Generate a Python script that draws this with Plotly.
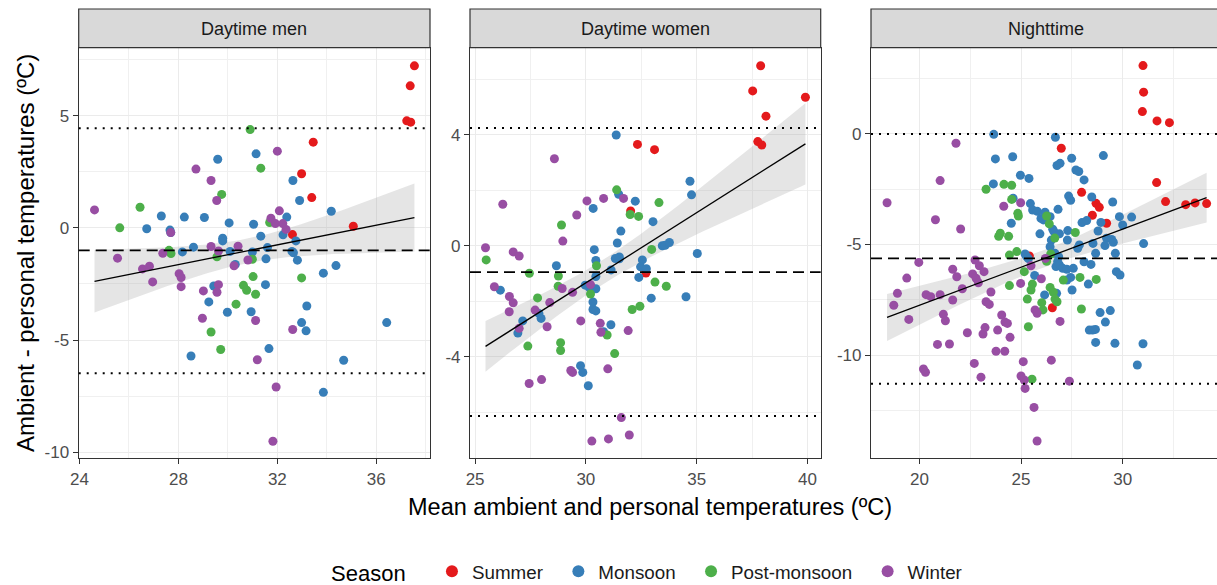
import numpy as np
import plotly.graph_objects as go

# ---------------- data ----------------
PANELS = ["Daytime men", "Daytime women", "Nighttime"]
SEASONS = ["Summer", "Monsoon", "Post-monsoon", "Winter"]
COLORS = {"Summer": "#E41A1C", "Monsoon": "#377EB8", "Post-monsoon": "#4DAF4A", "Winter": "#984EA3"}

# Daytime men
DM_SUMMER_X = [37.54, 37.37, 37.23, 37.39, 33.45, 32.98, 33.39, 35.07, 32.61]
DM_SUMMER_Y = [7.22, 6.33, 4.77, 4.71, 3.82, 2.41, 1.35, 0.07, -0.30]
DM_MONSOON_X = [29.59, 31.14, 32.63, 32.90, 34.18, 27.31, 28.24, 29.05, 26.72, 27.66, 27.69, 30.05, 31.04,
                32.38, 32.23, 32.75, 31.33, 29.79, 29.79, 28.61, 28.16, 30.09, 30.99, 31.60, 32.59, 32.65,
                31.54, 32.81, 30.30, 34.37, 33.86, 31.52, 29.43, 29.23, 33.19, 29.98, 30.94, 32.98, 33.16,
                36.42, 28.51, 31.66, 34.68, 33.86]
DM_MONSOON_Y = [3.06, 3.30, 2.11, 1.22, 0.74, 0.53, 0.48, 0.46, -0.04, -0.10, -0.21, 0.22, 0.16, 0.48,
                -0.31, -0.58, -0.37, -0.46, -0.58, -0.86, -1.07, -1.05, -1.08, -0.88, -1.05, -1.11, -1.38,
                -1.44, -1.63, -1.68, -2.02, -2.53, -2.59, -3.30, -3.48, -3.76, -3.74, -4.22, -4.59, -4.22,
                -5.71, -5.38, -5.90, -7.33]
DM_POST_X = [30.90, 31.33, 29.75, 26.45, 25.63, 31.69, 27.62, 27.70, 29.56, 30.99, 31.02, 32.98, 30.63,
             30.76, 31.12, 30.33, 29.32, 29.71]
DM_POST_Y = [4.38, 2.66, 1.49, 0.92, 0.00, 0.24, -1.00, -1.14, -1.29, -1.40, -2.17, -2.23, -2.56, -2.78,
             -2.96, -3.40, -4.64, -5.42]
DM_WINTER_X = [24.61, 25.54, 26.55, 26.83, 26.96, 27.37, 27.69, 28.71, 29.32, 29.55, 32.00, 32.08, 31.74,
               31.92, 32.22, 32.35, 29.32, 29.62, 30.41, 30.25, 30.81, 28.03, 28.11, 28.11, 29.01, 29.62,
               29.56, 28.97, 31.12, 32.62, 31.19, 31.95, 31.82]
DM_WINTER_Y = [0.80, -1.35, -1.83, -1.71, -2.41, -1.13, -0.21, 2.62, 2.11, 1.22, 3.42, 0.76, 0.43, 0.19,
               0.19, -0.07, -0.83, -1.03, -0.82, -1.69, -1.43, -2.04, -2.21, -2.62, -2.81, -2.53, -2.87,
               -4.03, -4.13, -4.53, -5.88, -7.09, -9.51]

# Daytime women
DW_SUMMER_X = [37.89, 37.53, 39.91, 38.13, 37.76, 37.94, 32.33, 33.10, 32.02, 32.71]
DW_SUMMER_Y = [6.50, 5.59, 5.36, 4.68, 3.76, 3.64, 3.66, 3.47, 1.26, -0.98]
DW_MONSOON_X = [31.37, 34.70, 34.77, 32.23, 30.33, 31.48, 33.03, 31.58, 31.42, 33.45, 33.58, 33.77, 35.03,
                30.38, 30.45, 31.33, 31.51, 31.51, 32.55, 32.47, 32.73, 32.39, 31.14, 28.67, 30.45, 29.97,
                30.17, 30.45, 32.95, 34.52, 26.14, 30.32, 30.32, 30.45, 27.15, 26.93, 27.88, 27.98, 30.80,
                31.13, 29.76, 29.86, 30.11]
DW_MONSOON_Y = [4.00, 2.33, 1.84, 1.61, 1.35, 1.86, 0.87, 0.53, 0.10, 0.00, 0.02, 0.12, -0.28, -0.14,
                -0.53, -0.46, -0.47, -0.40, -0.51, -0.76, -0.83, -1.14, -0.87, -0.72, -1.11, -1.42, -1.52,
                -1.55, -1.89, -1.84, -1.60, -2.03, -2.30, -2.35, -2.71, -3.15, -2.44, -2.62, -3.10, -2.85,
                -4.33, -4.57, -5.05]
DW_POST_X = [31.39, 33.30, 32.00, 32.38, 28.90, 32.97, 30.48, 27.45, 28.76, 28.75, 30.21, 33.12, 33.63,
             27.82, 32.09, 32.44, 30.96, 28.86, 28.86, 27.38, 31.30, 25.50]
DW_POST_Y = [2.02, 1.56, 1.13, 1.06, 0.75, -0.13, -0.72, -0.99, -1.09, -1.46, -1.74, -1.31, -1.46, -1.88,
             -2.30, -2.18, -3.22, -3.50, -3.78, -3.62, -3.89, -0.51]
DW_WINTER_X = [25.47, 26.25, 26.72, 26.99, 25.87, 26.55, 26.72, 26.54, 26.99, 27.71, 28.25, 28.37, 28.58,
               28.96, 29.59, 30.05, 30.80, 31.70, 28.93, 29.40, 30.21, 29.77, 30.65, 30.68, 31.91, 29.32,
               29.40, 30.99, 27.44, 28.00, 31.60, 30.27, 31.02, 31.96]
DW_WINTER_Y = [-0.07, 1.50, -0.22, -0.37, -1.48, -1.83, -2.06, -2.38, -2.98, -2.32, -2.92, -2.05, 3.14,
               0.17, 1.11, 1.62, 1.71, 1.71, -1.54, -1.68, -1.40, -2.71, -2.80, -3.12, -3.06, -4.50, -4.57,
               -4.44, -4.97, -4.83, -6.20, -7.05, -6.97, -6.83]

# Nighttime
NT_SUMMER_X = [31.00, 31.03, 30.97, 31.69, 32.30, 26.98, 31.67, 32.11, 33.10, 33.56, 34.13, 27.98, 28.69,
               28.85, 28.51, 29.21, 25.41, 26.54]
NT_SUMMER_Y = [3.09, 1.89, 1.01, 0.59, 0.51, -0.65, -2.20, -3.06, -3.20, -3.12, -3.15, -2.64, -3.14,
               -3.32, -3.68, -4.04, -5.52, -7.86]
NT_MONSOON_X = [23.66, 26.69, 23.74, 24.59, 29.05, 26.77, 26.92, 27.49, 27.70, 27.84,
                28.10, 24.97, 25.39, 23.64, 24.61, 27.34, 27.44, 28.48, 29.51, 25.46,
                25.57, 25.80, 26.18, 26.82, 25.98, 26.10, 26.43, 24.52, 25.93, 26.56,
                26.62, 26.89, 27.30, 27.28, 26.49, 26.43, 28.00, 28.23, 28.79, 29.84,
                30.00, 30.44, 28.93, 29.21, 29.46, 29.54, 29.13, 28.54, 27.87, 27.79,
                29.64, 31.03, 28.67, 25.20, 25.28, 25.36, 26.67, 26.85, 26.80, 26.72,
                26.89, 27.05, 27.25, 27.57, 28.10, 28.44, 28.31, 29.69, 29.87, 25.67,
                27.26, 27.44, 27.51, 26.16, 26.75, 28.89, 29.39, 29.15, 28.36, 28.52,
                28.66, 28.67, 29.62, 31.00, 30.72]
NT_MONSOON_Y = [-0.02, -0.15, -1.13, -1.03, -0.98, -1.43, -1.33, -1.10, -1.63, -1.70,
                -2.08, -1.87, -2.01, -2.26, -2.91, -2.81, -3.00, -2.85, -3.08, -3.15,
                -3.44, -3.50, -3.54, -3.41, -3.82, -3.89, -3.74, -4.04, -4.52, -4.31,
                -4.42, -4.52, -4.37, -4.80, -4.80, -5.10, -4.01, -3.92, -4.39, -3.74,
                -4.12, -3.76, -4.00, -4.72, -4.77, -4.90, -5.05, -4.95, -5.02, -5.17,
                -5.40, -4.96, -5.40, -5.43, -5.55, -5.64, -5.40, -5.55, -5.78, -6.00,
                -5.93, -6.08, -6.12, -6.08, -5.78, -5.90, -6.79, -6.23, -6.38, -6.40,
                -6.61, -6.49, -7.06, -7.28, -7.21, -8.08, -7.99, -8.51, -8.87, -8.87,
                -8.84, -9.43, -9.47, -9.49, -10.45]
NT_POST_X = [23.28, 24.16, 24.54, 24.54, 24.84, 24.87, 23.90, 23.98, 24.39, 26.26, 26.39, 26.66, 27.67,
             24.43, 24.79, 26.46, 26.26, 25.16, 25.56, 25.49, 24.43, 26.43, 26.59, 26.67, 26.77, 25.31,
             26.02, 26.08, 27.08, 27.90, 28.70, 27.97, 25.36, 25.54]
NT_POST_Y = [-2.50, -2.28, -2.32, -2.96, -3.59, -3.71, -4.63, -4.49, -4.63, -3.71, -4.07, -4.71, -4.46,
             -5.48, -5.32, -5.43, -5.76, -6.23, -6.79, -7.06, -6.86, -6.94, -7.16, -7.47, -7.59, -7.47,
             -7.63, -7.96, -6.61, -6.49, -6.58, -7.92, -8.72, -11.09]
NT_WINTER_X = [18.41, 21.80, 21.02, 20.79, 22.03, 24.15, 24.98, 19.97, 19.38, 18.92,
               18.74, 19.48, 20.33, 20.56, 21.02, 21.64, 21.84, 21.64, 22.11, 22.74,
               22.95, 23.18, 22.62, 22.79, 22.90, 21.18, 21.28, 22.36, 23.13, 23.23,
               23.52, 23.28, 23.44, 24.05, 24.21, 24.33, 23.85, 24.46, 20.89, 21.48,
               23.77, 24.20, 20.20, 20.30, 22.70, 23.03, 25.11, 25.00, 25.16, 25.20,
               25.64, 25.79, 26.49, 27.38, 24.98, 25.49, 26.00, 25.69, 25.79, 26.92, 26.20]
NT_WINTER_Y = [-3.11, -0.42, -2.11, -3.88, -4.30, -3.27, -3.11, -5.81, -6.52, -7.21,
               -7.75, -8.39, -7.27, -7.36, -7.27, -6.12, -6.46, -7.51, -7.00, -5.70,
               -5.96, -6.23, -6.33, -6.53, -6.73, -8.16, -8.45, -8.99, -9.05, -8.76,
               -7.15, -7.59, -7.71, -8.19, -8.51, -8.57, -8.87, -9.20, -9.52, -9.50,
               -9.83, -9.83, -10.63, -10.78, -10.38, -11.00, -10.30, -10.95, -11.13, -11.51,
               -12.37, -13.89, -10.23, -11.18, -6.76, -5.96, -6.55, -7.96, -8.11, -8.48, -5.63]

# Bias (mean difference) and limits of agreement per panel
BIAS = [-1.00, -0.95, -5.63]
LOA_UPPER = [4.44, 4.25, 0.00]
LOA_LOWER = [-6.48, -6.14, -11.30]

# Linear trend (geom_smooth, method = lm): start / end points
TREND_X = [[24.61, 37.54], [25.47, 39.91], [18.41, 34.13]]
TREND_Y = [[-2.38, 0.46], [-3.63, 3.68], [-8.30, -2.88]]

# axis tick settings per panel
X_TICKS = [[24, 28, 32, 36], [25, 30, 35, 40], [20, 25, 30]]
Y_TICKS = [[-10, -5, 0, 5], [-4, 0, 4], [-10, -5, 0]]

DATA = [
    {"Summer": (DM_SUMMER_X, DM_SUMMER_Y), "Monsoon": (DM_MONSOON_X, DM_MONSOON_Y),
     "Post-monsoon": (DM_POST_X, DM_POST_Y), "Winter": (DM_WINTER_X, DM_WINTER_Y)},
    {"Summer": (DW_SUMMER_X, DW_SUMMER_Y), "Monsoon": (DW_MONSOON_X, DW_MONSOON_Y),
     "Post-monsoon": (DW_POST_X, DW_POST_Y), "Winter": (DW_WINTER_X, DW_WINTER_Y)},
    {"Summer": (NT_SUMMER_X, NT_SUMMER_Y), "Monsoon": (NT_MONSOON_X, NT_MONSOON_Y),
     "Post-monsoon": (NT_POST_X, NT_POST_Y), "Winter": (NT_WINTER_X, NT_WINTER_Y)},
]

# ---------------- layout geometry ----------------
W, H = 1217, 585
X_DOMAINS = [(78.7 / W, 430.0 / W), (470.0 / W, 820.7 / W), (871.0 / W, 1.0)]
Y_DOMAIN = ((H - 458.3) / H, (H - 47.7) / H)
X_RANGES = [(23.97, 38.17), (24.77, 40.6), (17.62, 34.64)]
Y_RANGES = [(-10.27, 8.03), (-7.67, 7.15), (-14.67, 3.90)]
FONT = "Liberation Sans, Arial, sans-serif"
NBSP = "\u00a0"


def t_quantile(df, z=1.959964):
    return z + (z**3 + z) / (4 * df) + (5 * z**5 + 16 * z**3 + 3 * z) / (96 * df**2)


def fmt(v):
    return str(v).replace("\u2212", "-")


fig = go.Figure()

for p in range(3):
    xa = "x" if p == 0 else f"x{p+1}"
    ya = "y" if p == 0 else f"y{p+1}"
    allx = np.concatenate([np.array(DATA[p][s][0]) for s in SEASONS])
    ally = np.concatenate([np.array(DATA[p][s][1]) for s in SEASONS])
    n = len(allx)
    (tx0, tx1), (ty0, ty1) = TREND_X[p], TREND_Y[p]
    b = (ty1 - ty0) / (tx1 - tx0)
    a = ty0 - b * tx0
    resid = ally - (a + b * allx)
    s = np.sqrt(np.sum(resid**2) / (n - 2))
    xbar = allx.mean()
    sxx = np.sum((allx - xbar) ** 2)
    gx = np.linspace(tx0, tx1, 80)
    gy = a + b * gx
    se = s * np.sqrt(1.0 / n + (gx - xbar) ** 2 / sxx)
    tq = t_quantile(n - 2)
    lo, hi = gy - tq * se, gy + tq * se
    fig.add_trace(go.Scatter(x=np.concatenate([gx, gx[::-1]]), y=np.concatenate([hi, lo[::-1]]),
                             fill="toself", fillcolor="rgba(153,153,153,0.25)", line=dict(width=0),
                             mode="lines", hoverinfo="skip", showlegend=False, xaxis=xa, yaxis=ya))
    for k, sname in enumerate(SEASONS):
        xs, ys = DATA[p][sname]
        label = sname + (NBSP * 2 if k < len(SEASONS) - 1 else "")
        fig.add_trace(go.Scatter(x=xs, y=ys, mode="markers", name=label, legendgroup=sname,
                                 showlegend=(p == 0),
                                 marker=dict(color=COLORS[sname], size=9, line=dict(width=0)),
                                 xaxis=xa, yaxis=ya))
    fig.add_trace(go.Scatter(x=gx, y=gy, mode="lines", line=dict(color="black", width=1.3),
                             hoverinfo="skip", showlegend=False, xaxis=xa, yaxis=ya))

    # reference lines
    for val, dash, wd in [(BIAS[p], "11px,6px", 1.8), (LOA_UPPER[p], "2px,6px", 2.0),
                          (LOA_LOWER[p], "2px,6px", 2.0)]:
        fig.add_shape(type="line", xref=f"{xa} domain", yref=ya, x0=0, x1=1, y0=val, y1=val,
                      line=dict(color="black", width=wd, dash=dash), layer="above")

    # strip
    x0d, x1d = X_DOMAINS[p]
    fig.add_shape(type="rect", xref="paper", yref="paper", x0=x0d, x1=(x1d if p < 2 else 1.01),
                  y0=(H - 47.7) / H, y1=(H - 9) / H, fillcolor="#D9D9D9",
                  line=dict(color="#333333", width=1.2), layer="above")
    fig.add_annotation(text=PANELS[p], xref="paper", yref="paper",
                       x=(x0d + (x1d if p < 2 else 1220 / W)) / 2,
                       y=(H - 28.5) / H, showarrow=False, font=dict(size=18, color="#1A1A1A", family=FONT),
                       xanchor="center", yanchor="middle")

    dx = X_TICKS[p][1] - X_TICKS[p][0]
    dy = Y_TICKS[p][1] - Y_TICKS[p][0]
    axis_common = dict(showline=True, linecolor="#333333", linewidth=1.2, ticks="outside", ticklen=5,
                       tickcolor="#333333", tickwidth=1.1, tickfont=dict(size=17, color="#4D4D4D", family=FONT),
                       showgrid=True, gridcolor="#EBEBEB", gridwidth=1.1, zeroline=False)
    fig.update_layout(**{
        ("xaxis" if p == 0 else f"xaxis{p+1}"): dict(
            domain=list(X_DOMAINS[p]), range=list(X_RANGES[p]), anchor=ya,
            tickvals=X_TICKS[p], ticktext=[fmt(v) for v in X_TICKS[p]],
            mirror=True, minor=dict(dtick=dx / 2, tick0=X_TICKS[p][0], showgrid=True,
                                    gridcolor="#F0F0F0", gridwidth=0.6, ticks=""),
            **axis_common),
        ("yaxis" if p == 0 else f"yaxis{p+1}"): dict(
            domain=list(Y_DOMAIN), range=list(Y_RANGES[p]), anchor=xa,
            tickvals=Y_TICKS[p], ticktext=[fmt(v) for v in Y_TICKS[p]],
            mirror=(p < 2), minor=dict(dtick=dy / 2, tick0=Y_TICKS[p][0], showgrid=True,
                                       gridcolor="#F0F0F0", gridwidth=0.6, ticks=""),
            **axis_common),
    })

fig.add_annotation(text="Mean ambient and personal temperatures (ºC)", xref="paper", yref="paper",
                   x=650 / W, y=(H - 507) / H, showarrow=False, xanchor="center", yanchor="middle",
                   font=dict(size=23.5, color="black", family=FONT))
fig.add_annotation(text="Ambient - personal temperatures (ºC)", xref="paper", yref="paper",
                   x=25 / W, y=(H - 253) / H, showarrow=False, textangle=-90, xanchor="center",
                   yanchor="middle", font=dict(size=24, color="black", family=FONT))

fig.update_layout(
    width=W, height=H, autosize=False,
    margin=dict(l=0, r=0, t=0, b=0, autoexpand=False),
    paper_bgcolor="white", plot_bgcolor="white",
    font=dict(family=FONT),
    showlegend=True,
    legend=dict(orientation="h", x=648 / W, xanchor="center", y=(H - 572) / H, yanchor="middle",
                title=dict(text="Season" + NBSP * 3, side="left",
                           font=dict(size=22, color="black", family=FONT)),
                font=dict(size=18.8, color="#1A1A1A", family=FONT), bgcolor="rgba(0,0,0,0)",
                itemsizing="constant"),
)

fig.write_html("out.html")
